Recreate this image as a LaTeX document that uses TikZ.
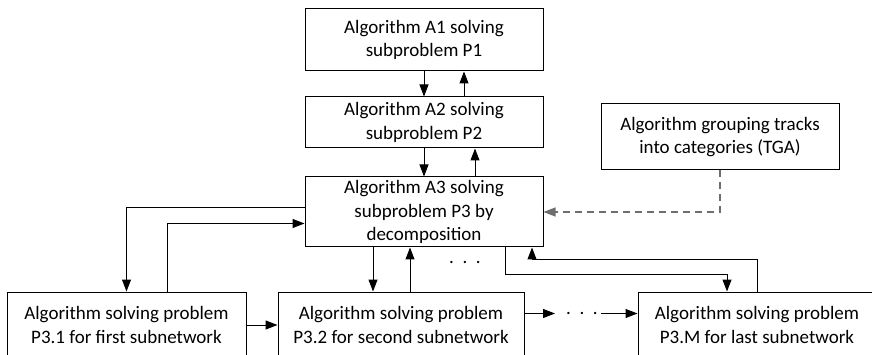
\documentclass[tikz,border=0pt]{standalone}
\usepackage{fontspec}
\setmainfont{Carlito}
\usepackage{xcolor}
\definecolor{tga_gray}{HTML}{6E6E6E}
\usetikzlibrary{positioning,calc,arrows.meta}
\tikzset{BLOCK/.style={rectangle,draw,line width=1pt,minimum width=238pt,inner xsep=2pt,inner ysep=1pt,align=flush center,font=\fontsize{19}{23.5}\selectfont}}
\tikzset{ARROW/.style={line width=1pt, -{Triangle[length=12pt,width=9pt]}}}
\tikzset{DASHED_ARROW/.style={ARROW, tga_gray, line width=1.2pt, dash pattern=on 7pt off 5pt}}
\tikzset{DOTS/.style={inner sep=0pt,font=\fontsize{19}{23.5}\selectfont}}

\begin{document}
\begin{tikzpicture}[x=1pt,y=-1pt]
\useasboundingbox (0,0) rectangle (872,355);

\node[BLOCK, minimum height=62pt] (n_a1) at (424,40) {Algorithm A1 solving\\subproblem P1};
\node[BLOCK, minimum height=51pt, below=25pt of n_a1] (n_a2) {Algorithm A2 solving\\subproblem P2};
\node[BLOCK, minimum height=70pt, below=28pt of n_a2] (n_a3) {Algorithm A3 solving\\subproblem P3 by\\decomposition};
\node[BLOCK, minimum height=66pt] (n_tga) at (720,137) {Algorithm grouping tracks\\into categories (TGA)};

\node[BLOCK, minimum height=66pt, minimum width=239pt] (n_p31) at (126.5,325) {Algorithm solving problem\\P3.1 for first subnetwork};
\node[BLOCK, minimum height=66pt, minimum width=246pt, right=31pt of n_p31] (n_p32) {Algorithm solving problem\\P3.2 for second subnetwork};
\node[BLOCK, minimum height=66pt] (n_p3m) at (757,325) {Algorithm solving problem\\P3.M for last subnetwork};

\node[DOTS, anchor=base] (n_dots_a3) at (465,264) {.\ \ .\ \ .};
\node[DOTS, anchor=base] (n_dots_p3) at (582,314.5) {.\ \ .\ \ .};

% A1 <-> A2 <-> A3
\draw[ARROW] (n_a1.south) -- (n_a2.north);
\draw[ARROW] ($(n_a2.north)+(40,0)$) -- ($(n_a1.south)+(40,0)$);
\draw[ARROW] (n_a2.south) -- (n_a3.north);
\draw[ARROW] ($(n_a3.north)+(51,0)$) -- ($(n_a2.south)+(51,0)$);

% A3 <-> P3.1
\coordinate (c_a3_p31) at ($(n_a3.west)+(0,-4.5)$);
\draw[ARROW] (c_a3_p31) -| (n_p31.north);
\coordinate (c_p31_a3) at ($(n_p31.north)+(41,0)$);
\draw[ARROW] (c_p31_a3) |- ($(n_a3.west)+(0,11.5)$);

% A3 <-> P3.2
\coordinate (c_a3_p32) at ($(n_a3.south)+(-51,0)$);
\draw[ARROW] (c_a3_p32) -- (c_a3_p32 |- n_p32.north);
\coordinate (c_p32_a3) at ($(n_p32.north)+(9,0)$);
\draw[ARROW] (c_p32_a3) -- (c_p32_a3 |- n_a3.south);

% A3 <-> P3.M
\coordinate (c_a3_p3m) at ($(n_a3.south)+(81,0)$);
\draw[ARROW] (c_a3_p3m) -- ++(0,26.5) -| ($(n_p3m.north)+(-30,0)$);
\draw[ARROW] (n_p3m.north) -- ++(0,-32) -| ($(n_a3.south)+(108,0)$);

% P3.1 -> P3.2 -> ... -> P3.M
\draw[ARROW] (n_p31.east) -- (n_p31.east -| n_p32.west);
\coordinate (c_p32_right) at ($(n_p32.east)+(0,-11.5)$);
\draw[ARROW] (c_p32_right) -- ($(c_p32_right -| n_dots_p3.west)+(-11,0)$);
\coordinate (c_dots_right) at ($(c_p32_right -| n_dots_p3.east)+(3,0)$);
\draw[ARROW] (c_dots_right) -- (c_dots_right -| n_p3m.west);

% TGA -> A3
\draw[DASHED_ARROW] (n_tga.south) |- (n_a3.east);

\end{tikzpicture}
\end{document}
